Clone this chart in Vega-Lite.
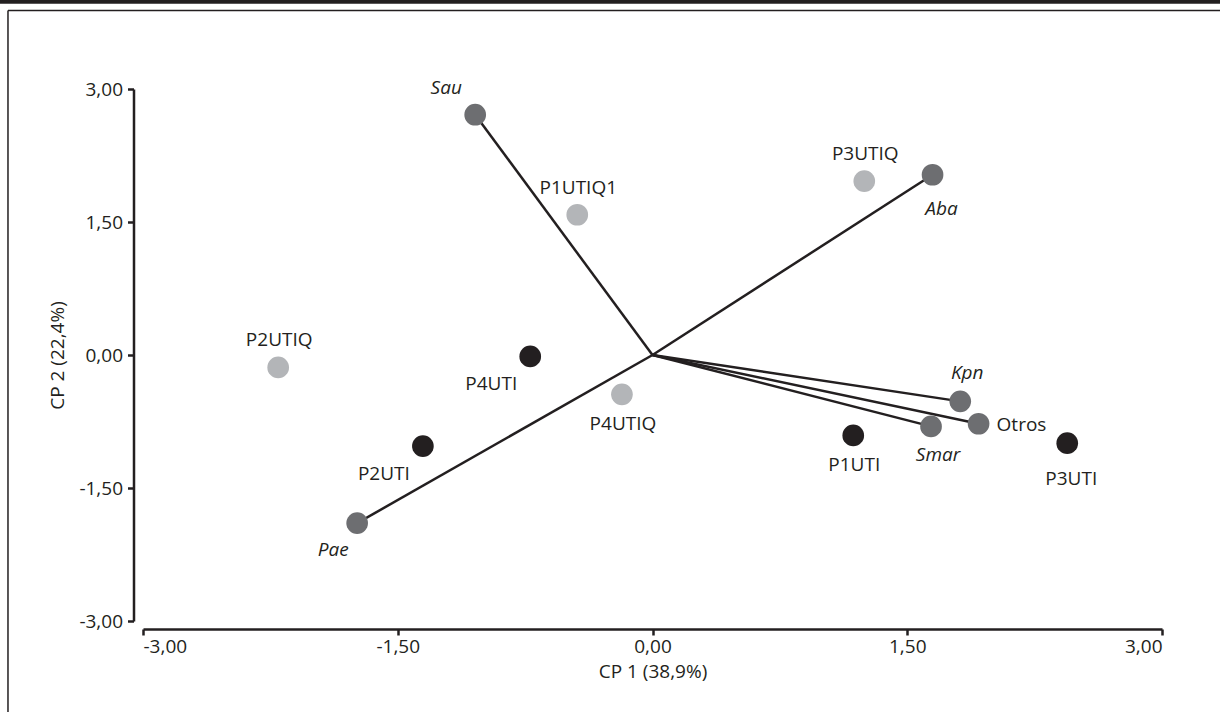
{
  "$schema": "https://vega.github.io/schema/vega-lite/v6.json",
  "autosize": {"type": "none"},
  "width": 1019,
  "height": 532,
  "padding": {"left": 143, "top": 89, "right": 58, "bottom": 91},
  "background": "white",
  "config": {
    "view": {"stroke": null},
    "font": "Open Sans",
    "axis": {
      "grid": false,
      "domainColor": "#231f20",
      "domainWidth": 2.5,
      "tickColor": "#231f20",
      "tickWidth": 2.5,
      "tickSize": 6,
      "labelFont": "Open Sans",
      "labelFontSize": 19,
      "labelColor": "#231f20",
      "titleFont": "Open Sans",
      "titleFontSize": 19,
      "titleFontWeight": "normal",
      "titleColor": "#231f20"
    },
    "axisX": {"offset": 8, "labelPadding": 2, "titlePadding": 6},
    "axisY": {"offset": 9.5, "labelPadding": 5, "titlePadding": 11}
  },
  "data": {
    "values": [
      {"name": "Sau", "x": -1.044, "y": 2.710, "group": "var"},
      {"name": "Aba", "x": 1.649, "y": 2.033, "group": "var"},
      {"name": "Kpn", "x": 1.812, "y": -0.523, "group": "var"},
      {"name": "Smar", "x": 1.640, "y": -0.805, "group": "var"},
      {"name": "Otros", "x": 1.920, "y": -0.775, "group": "var"},
      {"name": "Pae", "x": -1.739, "y": -1.896, "group": "var"},
      {"name": "P1UTIQ1", "x": -0.443, "y": 1.582, "group": "UTIQ"},
      {"name": "P3UTIQ", "x": 1.247, "y": 1.961, "group": "UTIQ"},
      {"name": "P2UTIQ", "x": -2.204, "y": -0.140, "group": "UTIQ"},
      {"name": "P4UTIQ", "x": -0.180, "y": -0.444, "group": "UTIQ"},
      {"name": "P4UTI", "x": -0.720, "y": -0.016, "group": "UTI"},
      {"name": "P2UTI", "x": -1.352, "y": -1.027, "group": "UTI"},
      {"name": "P1UTI", "x": 1.182, "y": -0.907, "group": "UTI"},
      {"name": "P3UTI", "x": 2.442, "y": -0.994, "group": "UTI"}
    ]
  },
  "layer": [
    {
      "transform": [{"filter": "datum.group === 'var'"}],
      "mark": {"type": "rule", "color": "#231f20", "strokeWidth": 2.5},
      "encoding": {
        "x": {
          "field": "x", "type": "quantitative",
          "scale": {"domain": [-3, 3], "nice": false, "zero": false},
          "axis": {
            "title": "CP 1 (38,9%)",
            "values": [-3, -1.5, 0, 1.5, 3],
            "labelExpr": "(datum.value < 0 ? '-' : '') + replace(format(abs(datum.value), '.2f'), '.', ',')"
          }
        },
        "y": {
          "field": "y", "type": "quantitative",
          "scale": {"domain": [-3, 3], "nice": false, "zero": false},
          "axis": {
            "title": "CP 2 (22,4%)",
            "values": [-3, -1.5, 0, 1.5, 3],
            "labelExpr": "(datum.value < 0 ? '-' : '') + replace(format(abs(datum.value), '.2f'), '.', ',')"
          }
        },
        "x2": {"datum": 0},
        "y2": {"datum": 0}
      }
    },
    {
      "mark": {"type": "circle", "size": 470, "opacity": 1},
      "encoding": {
        "x": {"field": "x", "type": "quantitative", "title": "CP 1 (38,9%)"},
        "y": {"field": "y", "type": "quantitative", "title": "CP 2 (22,4%)"},
        "color": {
          "field": "group", "type": "nominal",
          "scale": {"domain": ["var", "UTI", "UTIQ"], "range": ["#6d6e71", "#231f20", "#b3b5b8"]},
          "legend": null
        }
      }
    },
    {
      "transform": [{"filter": {"field": "name", "oneOf": ["P1UTIQ1", "P3UTIQ", "P2UTIQ"]}}],
      "mark": {"type": "text", "fontSize": 19, "font": "Open Sans", "color": "#231f20", "dx": 1, "dy": -27},
      "encoding": {
        "x": {"field": "x", "type": "quantitative", "title": "CP 1 (38,9%)"},
        "y": {"field": "y", "type": "quantitative", "title": "CP 2 (22,4%)"},
        "text": {"field": "name"}
      }
    },
    {
      "transform": [{"filter": {"field": "name", "oneOf": ["P4UTIQ", "P1UTI"]}}],
      "mark": {"type": "text", "fontSize": 19, "font": "Open Sans", "color": "#231f20", "dx": 1, "dy": 30},
      "encoding": {
        "x": {"field": "x", "type": "quantitative", "title": "CP 1 (38,9%)"},
        "y": {"field": "y", "type": "quantitative", "title": "CP 2 (22,4%)"},
        "text": {"field": "name"}
      }
    },
    {
      "transform": [{"filter": {"field": "name", "oneOf": ["P3UTI"]}}],
      "mark": {"type": "text", "fontSize": 19, "font": "Open Sans", "color": "#231f20", "dx": 4, "dy": 36},
      "encoding": {
        "x": {"field": "x", "type": "quantitative", "title": "CP 1 (38,9%)"},
        "y": {"field": "y", "type": "quantitative", "title": "CP 2 (22,4%)"},
        "text": {"field": "name"}
      }
    },
    {
      "transform": [{"filter": {"field": "name", "oneOf": ["P2UTI", "P4UTI"]}}],
      "mark": {"type": "text", "fontSize": 19, "font": "Open Sans", "color": "#231f20", "dx": -39, "dy": 28},
      "encoding": {
        "x": {"field": "x", "type": "quantitative", "title": "CP 1 (38,9%)"},
        "y": {"field": "y", "type": "quantitative", "title": "CP 2 (22,4%)"},
        "text": {"field": "name"}
      }
    },
    {
      "transform": [{"filter": {"field": "name", "oneOf": ["Otros"]}}],
      "mark": {"type": "text", "fontSize": 19, "font": "Open Sans", "color": "#231f20", "align": "left", "dx": 18, "dy": 1},
      "encoding": {
        "x": {"field": "x", "type": "quantitative", "title": "CP 1 (38,9%)"},
        "y": {"field": "y", "type": "quantitative", "title": "CP 2 (22,4%)"},
        "text": {"field": "name"}
      }
    },
    {
      "transform": [{"filter": {"field": "name", "oneOf": ["Sau"]}}],
      "mark": {"type": "text", "fontSize": 19, "font": "Open Sans", "fontStyle": "italic", "color": "#231f20", "dx": -29, "dy": -27},
      "encoding": {
        "x": {"field": "x", "type": "quantitative", "title": "CP 1 (38,9%)"},
        "y": {"field": "y", "type": "quantitative", "title": "CP 2 (22,4%)"},
        "text": {"field": "name"}
      }
    },
    {
      "transform": [{"filter": {"field": "name", "oneOf": ["Pae"]}}],
      "mark": {"type": "text", "fontSize": 19, "font": "Open Sans", "fontStyle": "italic", "color": "#231f20", "dx": -24, "dy": 27},
      "encoding": {
        "x": {"field": "x", "type": "quantitative", "title": "CP 1 (38,9%)"},
        "y": {"field": "y", "type": "quantitative", "title": "CP 2 (22,4%)"},
        "text": {"field": "name"}
      }
    },
    {
      "transform": [{"filter": {"field": "name", "oneOf": ["Aba"]}}],
      "mark": {"type": "text", "fontSize": 19, "font": "Open Sans", "fontStyle": "italic", "color": "#231f20", "dx": 9, "dy": 34},
      "encoding": {
        "x": {"field": "x", "type": "quantitative", "title": "CP 1 (38,9%)"},
        "y": {"field": "y", "type": "quantitative", "title": "CP 2 (22,4%)"},
        "text": {"field": "name"}
      }
    },
    {
      "transform": [{"filter": {"field": "name", "oneOf": ["Smar"]}}],
      "mark": {"type": "text", "fontSize": 19, "font": "Open Sans", "fontStyle": "italic", "color": "#231f20", "dx": 7, "dy": 29},
      "encoding": {
        "x": {"field": "x", "type": "quantitative", "title": "CP 1 (38,9%)"},
        "y": {"field": "y", "type": "quantitative", "title": "CP 2 (22,4%)"},
        "text": {"field": "name"}
      }
    },
    {
      "transform": [{"filter": {"field": "name", "oneOf": ["Kpn"]}}],
      "mark": {"type": "text", "fontSize": 19, "font": "Open Sans", "fontStyle": "italic", "color": "#231f20", "dx": 7, "dy": -28},
      "encoding": {
        "x": {"field": "x", "type": "quantitative", "title": "CP 1 (38,9%)"},
        "y": {"field": "y", "type": "quantitative", "title": "CP 2 (22,4%)"},
        "text": {"field": "name"}
      }
    },
    {
      "data": {"values": [{"part": "bar"}]},
      "mark": {"type": "rect", "color": "#231f20", "clip": false},
      "encoding": {
        "x": {"datum": -3.9, "type": "quantitative", "title": "CP 1 (38,9%)"},
        "x2": {"datum": 3.5},
        "y": {"datum": 4.05, "type": "quantitative", "title": "CP 2 (22,4%)"},
        "y2": {"datum": 3.962}
      }
    },
    {
      "data": {"values": [{"part": "top"}]},
      "mark": {"type": "rule", "color": "#231f20", "strokeWidth": 1.5, "clip": false},
      "encoding": {
        "x": {"datum": -3.795, "type": "quantitative", "title": "CP 1 (38,9%)"},
        "x2": {"datum": 3.5},
        "y": {"datum": 3.886, "type": "quantitative", "title": "CP 2 (22,4%)"}
      }
    },
    {
      "data": {"values": [{"part": "left"}]},
      "mark": {"type": "rule", "color": "#231f20", "strokeWidth": 1.5, "clip": false},
      "encoding": {
        "x": {"datum": -3.795, "type": "quantitative", "title": "CP 1 (38,9%)"},
        "y": {"datum": 3.886, "type": "quantitative", "title": "CP 2 (22,4%)"},
        "y2": {"datum": -4.1}
      }
    }
  ]
}
